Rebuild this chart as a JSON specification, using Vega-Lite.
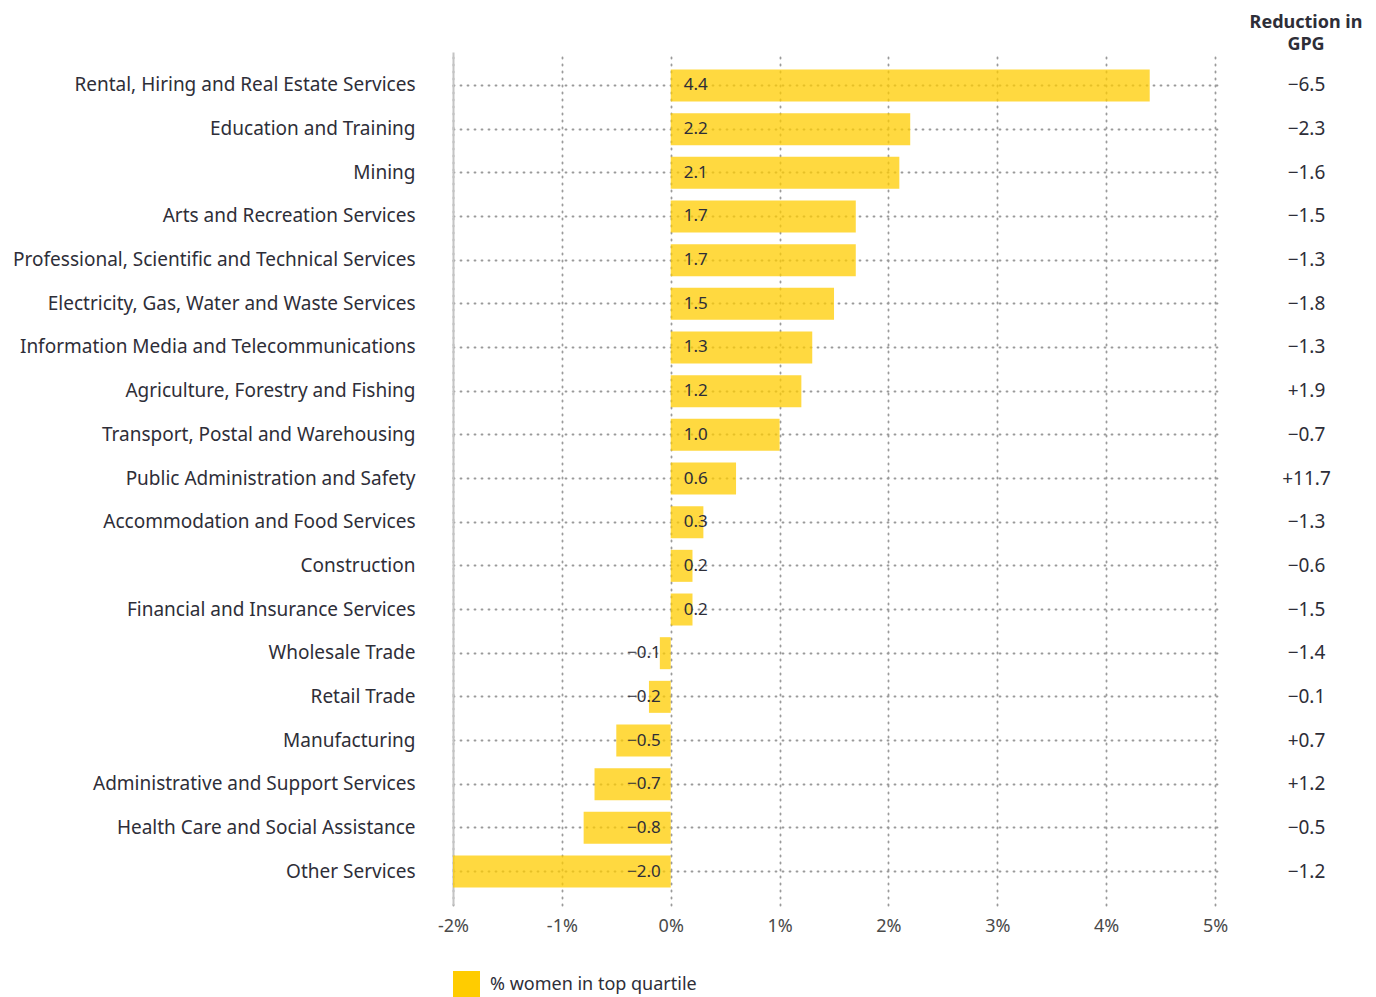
{
  "$schema": "https://vega.github.io/schema/vega-lite/v6.json",
  "width": 769,
  "height": 853,
  "padding": {"left": 12, "top": 14, "right": 5, "bottom": 5},
  "background": "white",
  "config": {
    "font": "Noto Sans",
    "view": {"stroke": null}
  },
  "title": {
    "text": ["Reduction in", "GPG"],
    "anchor": "end",
    "frame": "group",
    "align": "center",
    "dx": 84,
    "fontSize": 18,
    "fontWeight": "bold",
    "color": "#2e2e38",
    "lineHeight": 22,
    "offset": -2
  },
  "data": {
    "values": [
      {"industry": "Rental, Hiring and Real Estate Services", "value": 4.4, "gpg": -6.5},
      {"industry": "Education and Training", "value": 2.2, "gpg": -2.3},
      {"industry": "Mining", "value": 2.1, "gpg": -1.6},
      {"industry": "Arts and Recreation Services", "value": 1.7, "gpg": -1.5},
      {"industry": "Professional, Scientific and Technical Services", "value": 1.7, "gpg": -1.3},
      {"industry": "Electricity, Gas, Water and Waste Services", "value": 1.5, "gpg": -1.8},
      {"industry": "Information Media and Telecommunications", "value": 1.3, "gpg": -1.3},
      {"industry": "Agriculture, Forestry and Fishing", "value": 1.2, "gpg": 1.9},
      {"industry": "Transport, Postal and Warehousing", "value": 1.0, "gpg": -0.7},
      {"industry": "Public Administration and Safety", "value": 0.6, "gpg": 11.7},
      {"industry": "Accommodation and Food Services", "value": 0.3, "gpg": -1.3},
      {"industry": "Construction", "value": 0.2, "gpg": -0.6},
      {"industry": "Financial and Insurance Services", "value": 0.2, "gpg": -1.5},
      {"industry": "Wholesale Trade", "value": -0.1, "gpg": -1.4},
      {"industry": "Retail Trade", "value": -0.2, "gpg": -0.1},
      {"industry": "Manufacturing", "value": -0.5, "gpg": 0.7},
      {"industry": "Administrative and Support Services", "value": -0.7, "gpg": 1.2},
      {"industry": "Health Care and Social Assistance", "value": -0.8, "gpg": -0.5},
      {"industry": "Other Services", "value": -2.0, "gpg": -1.2}
    ]
  },
  "encoding": {
    "y": {
      "field": "industry",
      "type": "nominal",
      "sort": null,
      "scale": {"paddingInner": 0.267, "paddingOuter": 0.4},
      "axis": {
        "title": null,
        "ticks": false,
        "domain": true,
        "domainColor": "#c4c4c4",
        "domainWidth": 2,
        "labelFontSize": 19,
        "labelColor": "#2e2e38",
        "labelPadding": 38,
        "labelLimit": 600,
        "grid": true,
        "bandPosition": 0.5,
        "gridColor": "#9a9a9a",
        "gridDash": [1, 6],
        "gridWidth": 1.8,
        "gridCap": "round"
      }
    }
  },
  "layer": [
    {
      "mark": {"type": "bar", "opacity": 0.75},
      "encoding": {
        "x": {
          "field": "value",
          "type": "quantitative",
          "scale": {"domain": [-2, 5.064], "nice": false, "zero": false},
          "axis": {
            "title": null,
            "values": [-2, -1, 0, 1, 2, 3, 4, 5],
            "labelExpr": "datum.value + '%'",
            "labelFlush": false,
            "ticks": false,
            "domain": false,
            "labelFontSize": 18,
            "labelColor": "#4a4a4a",
            "labelPadding": 12,
            "grid": true,
            "gridColor": "#9a9a9a",
            "gridDash": [1, 6],
            "gridWidth": 1.8,
            "gridCap": "round"
          }
        },
        "x2": {"datum": 0},
        "color": {
          "datum": "% women in top quartile",
          "scale": {"range": ["#FFCC00"]},
          "legend": {
            "title": null,
            "orient": "none",
            "legendX": 0,
            "legendY": 919,
            "symbolType": "square",
            "symbolSize": 729,
            "symbolOpacity": 1,
            "symbolStrokeWidth": 0,
            "labelFontSize": 18,
            "labelColor": "#2e2e38",
            "labelOffset": 10,
            "labelLimit": 400
          }
        }
      }
    },
    {
      "transform": [{"filter": "datum.value >= 0"}],
      "mark": {"type": "text", "align": "left", "dx": 13, "fontSize": 17, "color": "#2e2e38"},
      "encoding": {
        "x": {"datum": 0},
        "text": {"field": "value", "type": "quantitative", "format": ".1f"}
      }
    },
    {
      "transform": [{"filter": "datum.value < 0"}],
      "mark": {"type": "text", "align": "right", "dx": -10, "fontSize": 17, "color": "#2e2e38"},
      "encoding": {
        "x": {"datum": 0},
        "text": {"field": "value", "type": "quantitative", "format": ".1f"}
      }
    },
    {
      "mark": {"type": "text", "align": "center", "fontSize": 19, "color": "#2e2e38"},
      "encoding": {
        "x": {"datum": 5.84},
        "text": {"field": "gpg", "type": "quantitative", "format": "+.1f"}
      }
    }
  ]
}
